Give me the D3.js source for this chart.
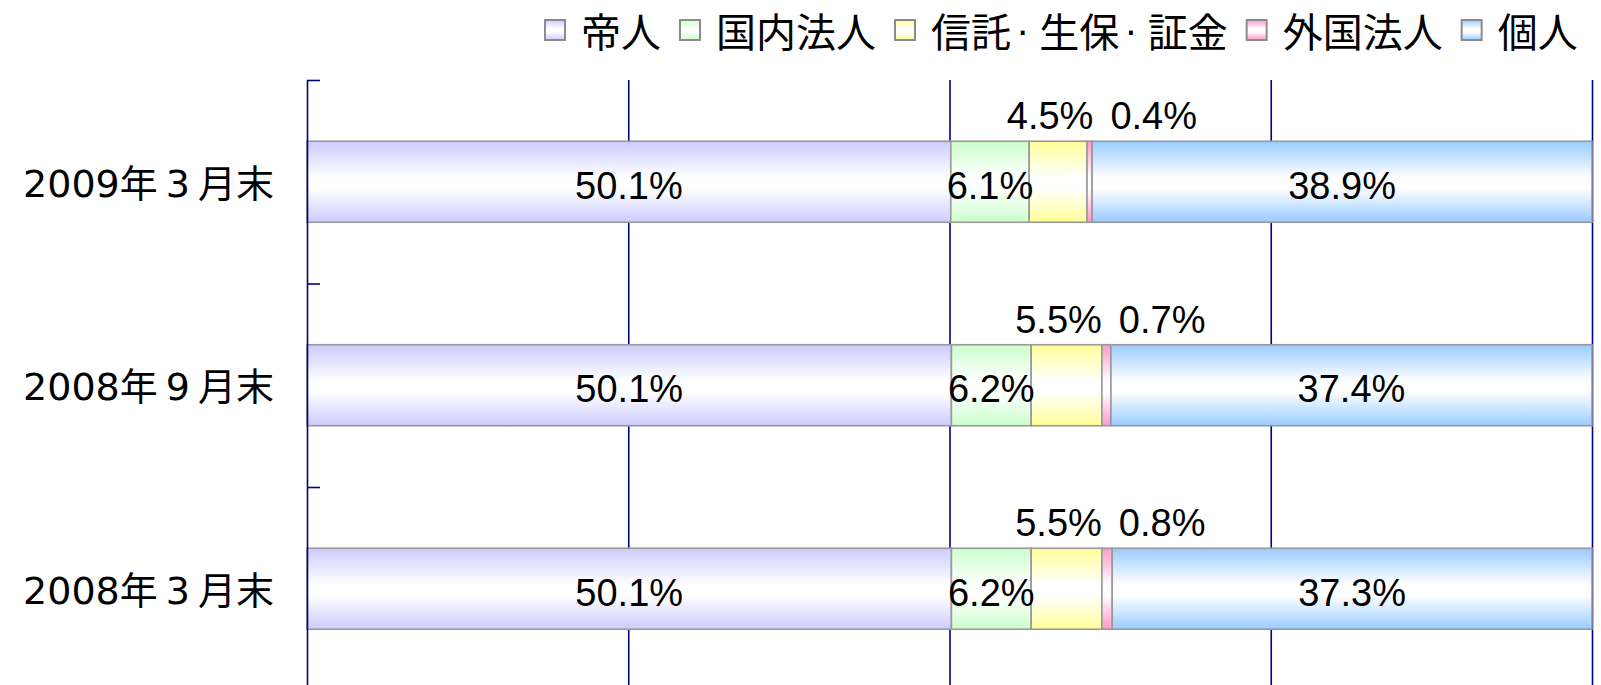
<!DOCTYPE html>
<html>
<head>
<meta charset="utf-8">
<script src="https://cdn.jsdelivr.net/npm/d3@7"></script>
<style>
body { margin: 0; background: #fff; }
svg { display: block; }
</style>
</head>
<body>
<svg id="drawing_region"></svg>
<script>
const categories = ['2009年3月末', '2008年9月末', '2008年3月末'];
const seriesNames = ['帝人', '国内法人', '信託･生保･証金', '外国法人', '個人'];
const teijin = [50.1, 50.1, 50.1];
const domestic = [6.1, 6.2, 6.2];
const trust = [4.5, 5.5, 5.5];
const foreign = [0.4, 0.7, 0.8];
const individual = [38.9, 37.4, 37.3];
const seriesColors = ['#ccccff', '#ccffcc', '#ffff99', '#ff99cc', '#99ccff'];
const gridTicks = [0.25, 0.5, 0.75, 1];

const seriesValues = [teijin, domestic, trust, foreign, individual];
const table = categories.map((c, i) => {
    const row = { category: c };
    seriesNames.forEach((s, j) => { row[s] = seriesValues[j][i]; });
    return row;
});

class StackedBarChart {
    constructor(config, data) {
        this.config = config;
        this.data = data;
        this.init();
    }
    init() {
        let self = this;
        const c = self.config;
        self.svg = d3.select(c.parent)
            .attr('width', c.width)
            .attr('height', c.height);

        const defs = self.svg.append('defs');
        seriesColors.forEach((col, i) => {
            const g = defs.append('linearGradient')
                .attr('id', 'grad' + i)
                .attr('x1', 0).attr('y1', 0).attr('x2', 0).attr('y2', 1);
            g.append('stop').attr('offset', '0%').attr('stop-color', col);
            g.append('stop').attr('offset', '45%').attr('stop-color', '#ffffff');
            g.append('stop').attr('offset', '58%').attr('stop-color', '#ffffff');
            g.append('stop').attr('offset', '100%').attr('stop-color', col);
        });

        self.xscale = d3.scaleLinear()
            .domain([0, 1])
            .range([c.plot.left, c.plot.right]);

        self.yscale = d3.scaleBand()
            .domain(self.data.map(d => d.category))
            .range([c.plot.top, c.plot.top + c.step * self.data.length])
            .paddingInner(1 - c.barHeight / c.step)
            .paddingOuter((1 - c.barHeight / c.step) / 2);

        self.boundary = d3.scaleLinear()
            .domain([0, self.data.length])
            .range(self.yscale.range());

        self.stack = d3.stack()
            .keys(seriesNames)
            .offset(d3.stackOffsetExpand);
    }
    update() {
        this.series = this.stack(this.data);
        this.render();
    }
    render() {
        let self = this;
        const c = self.config;

        // vertical grid lines
        const grid = self.svg.append('g')
            .attr('transform', `translate(0, ${c.plot.top})`)
            .call(d3.axisBottom(self.xscale)
                .tickValues(gridTicks)
                .tickSize(self.boundary.range()[1] - c.plot.top)
                .tickFormat(''));
        grid.select('.domain').remove();
        grid.selectAll('line').attr('stroke', '#000080').attr('stroke-width', 1.6);

        // bars
        self.svg.append('g')
            .selectAll('g')
            .data(self.series)
            .join('g')
            .attr('fill', (d, i) => `url(#grad${i})`)
            .selectAll('rect')
            .data(d => d)
            .join('rect')
            .attr('x', d => self.xscale(d[0]))
            .attr('y', d => self.yscale(d.data.category))
            .attr('width', d => self.xscale(d[1]) - self.xscale(d[0]))
            .attr('height', self.yscale.bandwidth())
            .attr('stroke', '#999999')
            .attr('stroke-width', 1.6);

        // left axis with ticks between categories
        const yaxis = self.svg.append('g')
            .attr('transform', `translate(${c.plot.left}, 0)`)
            .call(d3.axisRight(self.boundary)
                .tickValues(d3.range(self.data.length + 1))
                .tickSize(13)
                .tickSizeOuter(0)
                .tickFormat(''));
        yaxis.selectAll('line, path').attr('stroke', '#000080').attr('stroke-width', 1.6);

        // category labels: a little air around the month digit, as in the original
        const catText = self.svg.append('g')
            .selectAll('text')
            .data(self.data)
            .join('text')
            .attr('x', c.plot.left - 33)
            .attr('y', d => self.yscale(d.category) + self.yscale.bandwidth() / 2 + 15)
            .attr('text-anchor', 'end')
            .style('font-family', '"DejaVu Sans", "Noto Sans CJK JP", sans-serif')
            .style('font-size', '38px');
        catText.each(function(d) {
            const m = d.category.match(/^(.*年)(\d+)(月.*)$/);
            const t = d3.select(this);
            t.append('tspan').text(m[1]);
            t.append('tspan').attr('dx', 8).text(m[2]);
            t.append('tspan').attr('dx', 8).text(m[3]);
        });

        // value labels
        const labelLayer = self.svg.append('g')
            .style('font-family', '"Liberation Sans", Arial, sans-serif')
            .style('font-size', '38px')
            .attr('fill', '#000');
        const fmt = v => v.toFixed(1) + '%';
        self.data.forEach((row, r) => {
            const seg = self.series.map(s => s[r]);
            const top = self.yscale(row.category);
            const mid = top + self.yscale.bandwidth() / 2;
            [0, 1, 4].forEach(k => {
                labelLayer.append('text')
                    .attr('x', (self.xscale(seg[k][0]) + self.xscale(seg[k][1])) / 2)
                    .attr('y', mid + 17)
                    .attr('text-anchor', 'middle')
                    .text(fmt(row[seriesNames[k]]));
            });
            const t = labelLayer.append('text')
                .attr('x', (self.xscale(seg[2][0]) + self.xscale(seg[2][1])) / 2 - 8)
                .attr('y', top - 12)
                .attr('text-anchor', 'middle')
                .text(fmt(row[seriesNames[2]]));
            const bb = t.node().getBBox();
            labelLayer.append('text')
                .attr('x', bb.x + bb.width + 17)
                .attr('y', top - 12)
                .text(fmt(row[seriesNames[3]]));
        });

        // legend
        const legend = self.svg.append('g')
            .style('font-family', '"Noto Sans CJK JP", sans-serif')
            .style('font-size', '40px');
        let lx = c.legend.x;
        seriesNames.forEach((name, i) => {
            legend.append('rect')
                .attr('x', lx).attr('y', c.legend.y - 10)
                .attr('width', 20).attr('height', 20)
                .attr('fill', `url(#grad${i})`)
                .attr('stroke', '#8c8c8c')
                .attr('stroke-width', 2);
            const txt = legend.append('text')
                .attr('x', lx + 36)
                .attr('y', c.legend.y)
                .attr('dominant-baseline', 'central');
            name.split('･').forEach((part, j) => {
                if (j > 0) {
                    txt.append('tspan').attr('dx', 5)
                        .style('font-family', '"Liberation Sans", sans-serif')
                        .text('·');
                }
                txt.append('tspan').attr('dx', j > 0 ? 10 : 0).text(part);
            });
            lx += 36 + txt.node().getBBox().width + 19;
        });
    }
}

const config = {
    parent: '#drawing_region',
    width: 1601,
    height: 685,
    plot: { left: 307, right: 1592, top: 80 },
    step: 203.5,
    barHeight: 81,
    legend: { x: 545, y: 30 },
};

const chart = new StackedBarChart(config, table);
chart.update();
</script>
</body>
</html>
